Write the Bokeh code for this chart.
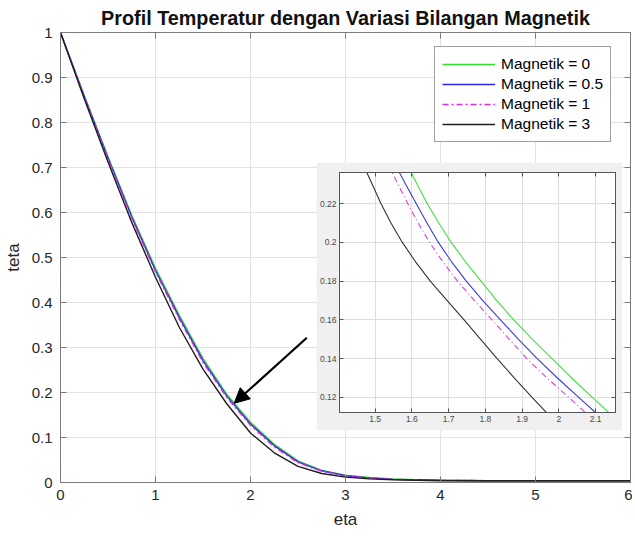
from bokeh.plotting import figure
from bokeh.models import Arrow, NormalHead, FixedTicker, LinearAxis, Range1d
from bokeh.layouts import column
from bokeh.embed import file_html
from bokeh.resources import INLINE

# ---------------- data ----------------
eta = [0, 0.25, 0.5, 0.75, 1, 1.25, 1.5, 1.75, 2, 2.25, 2.5, 2.75, 3, 3.25, 3.5, 3.75, 4, 4.5, 5, 5.5, 6]
theta_m0 = [1, 0.86, 0.724, 0.594, 0.476, 0.372, 0.276, 0.196, 0.134, 0.085, 0.048, 0.027, 0.016, 0.011, 0.008, 0.006, 0.005, 0.004, 0.004, 0.004, 0.004]
theta_m05 = [1, 0.858, 0.721, 0.59, 0.471, 0.367, 0.271, 0.192, 0.13, 0.082, 0.046, 0.026, 0.015, 0.010, 0.007, 0.006, 0.005, 0.004, 0.004, 0.004, 0.004]
theta_m1 = [1, 0.857, 0.719, 0.587, 0.468, 0.363, 0.267, 0.189, 0.127, 0.079, 0.044, 0.025, 0.015, 0.010, 0.007, 0.006, 0.005, 0.004, 0.004, 0.004, 0.004]
theta_m3 = [1, 0.853, 0.712, 0.578, 0.456, 0.345, 0.252, 0.175, 0.11, 0.066, 0.036, 0.020, 0.012, 0.008, 0.006, 0.005, 0.004, 0.004, 0.004, 0.004, 0.004]

# zoomed inset (separate picture): eta positions read at given theta levels
inset_theta = [0.24, 0.23, 0.22, 0.21, 0.20, 0.19, 0.18, 0.17, 0.16, 0.15, 0.14, 0.13, 0.12, 0.11]
inset_eta_m0 = [1.588, 1.614, 1.642, 1.673, 1.707, 1.746, 1.788, 1.831, 1.877, 1.928, 1.981, 2.035, 2.091, 2.148]
inset_eta_m05 = [1.555, 1.583, 1.612, 1.641, 1.672, 1.708, 1.748, 1.793, 1.841, 1.890, 1.941, 1.996, 2.054, 2.112]
inset_eta_m1 = [1.537, 1.562, 1.589, 1.617, 1.648, 1.684, 1.724, 1.770, 1.818, 1.865, 1.913, 1.968, 2.027, 2.085]
inset_eta_m3 = [1.468, 1.492, 1.516, 1.543, 1.574, 1.610, 1.650, 1.696, 1.742, 1.787, 1.832, 1.879, 1.927, 1.977]

legend_labels = ["Magnetik = 0", "Magnetik = 0.5", "Magnetik = 1", "Magnetik = 3"]

x_ticks = [0, 1, 2, 3, 4, 5, 6]
x_tick_labels = ["0", "1", "2", "3", "4", "5", "6"]
y_ticks = [0, 0.1, 0.2, 0.3, 0.4, 0.5, 0.6, 0.7, 0.8, 0.9, 1]
y_tick_labels = ["0", "0.1", "0.2", "0.3", "0.4", "0.5", "0.6", "0.7", "0.8", "0.9", "1"]
inset_x_ticks = [1.5, 1.6, 1.7, 1.8, 1.9, 2.0, 2.1]
inset_x_labels = ["1.5", "1.6", "1.7", "1.8", "1.9", "2", "2.1"]
inset_y_ticks = [0.12, 0.14, 0.16, 0.18, 0.2, 0.22]
inset_y_labels = ["0.12", "0.14", "0.16", "0.18", "0.2", "0.22"]

# ---------------- styles ----------------
FONT = "Liberation Sans"
C_GREEN = "#2fe02f"
C_BLUE = "#2b2be0"
C_MAG = "#e02ce0"
C_BLACK = "#1e1e1e"
AXIS_C = "#7a7a7a"
GRID_C = "#e2e2e2"

p = figure(width=632, height=531, x_range=Range1d(0, 6), y_range=Range1d(0, 1),
           output_backend="svg", toolbar_location=None,
           min_border_left=57, min_border_right=2, min_border_top=24, min_border_bottom=47,
           background_fill_color="white", border_fill_color="white",
           outline_line_color=AXIS_C, frame_align=False)
p.title.text = "Profil Temperatur dengan Variasi Bilangan Magnetik"
p.title.align = "center"
p.title.text_font = FONT
p.title.text_font_size = "19.8px"
p.title.text_font_style = "bold"
p.title.text_color = "#111111"
p.title.standoff = 8

p.xaxis.ticker = FixedTicker(ticks=x_ticks)
p.xaxis.major_label_overrides = dict(zip(x_ticks, x_tick_labels))
p.yaxis.ticker = FixedTicker(ticks=y_ticks)
p.yaxis.major_label_overrides = dict(zip(y_ticks, y_tick_labels))
p.xgrid.ticker = FixedTicker(ticks=x_ticks)
p.ygrid.ticker = FixedTicker(ticks=y_ticks)
p.grid.grid_line_color = GRID_C
p.xaxis.axis_label = "eta"
p.yaxis.axis_label = "teta"
for ax in (p.xaxis[0], p.yaxis[0]):
    ax.axis_line_color = AXIS_C
    ax.major_tick_line_color = AXIS_C
    ax.major_tick_in = 6
    ax.major_tick_out = 0
    ax.minor_tick_line_color = None
    ax.major_label_text_font = FONT
    ax.major_label_text_font_size = "15px"
    ax.major_label_text_color = "#262626"
    ax.axis_label_text_font = FONT
    ax.axis_label_text_font_size = "17px"
    ax.axis_label_text_font_style = "normal"
    ax.axis_label_text_color = "#262626"
p.xaxis.major_label_standoff = 7
p.xaxis.axis_label_standoff = 7
p.yaxis.major_label_standoff = 8
p.yaxis.axis_label_standoff = 6

for loc, tk in (("above", x_ticks), ("right", y_ticks)):
    a = LinearAxis(ticker=FixedTicker(ticks=tk),
                   major_label_overrides={t: "" for t in tk},
                   major_label_text_font_size="1px",
                   major_label_standoff=0, major_tick_in=6, major_tick_out=0,
                   minor_tick_line_color=None, axis_line_color=AXIS_C,
                   major_tick_line_color=AXIS_C)
    p.add_layout(a, loc)

series = [(theta_m0, C_GREEN, "solid"), (theta_m05, C_BLUE, "solid"),
          (theta_m1, C_MAG, "6 3 2 3"), (theta_m3, C_BLACK, "solid")]
for (ys, c, dash), lab in zip(series, legend_labels):
    p.line(eta, ys, line_color=c, line_width=1.4, line_dash=dash, legend_label=lab)

lg = p.legend[0]
lg.location = (374, 340)
lg.margin = 0
lg.padding = 7
lg.spacing = 0
lg.label_height = 20
lg.glyph_height = 20
lg.glyph_width = 53
lg.label_standoff = 6
lg.label_text_font = FONT
lg.label_text_font_size = "15.5px"
lg.label_text_color = "#000000"
lg.border_line_color = "#404040"
lg.border_line_width = 1
lg.background_fill_alpha = 1.0

p.add_layout(Arrow(end=NormalHead(size=15, fill_color="black", line_color="black"),
                   x_start=2.593, y_start=0.3216, x_end=1.828, y_end=0.176,
                   line_width=2.2, line_color="black"))

# ---------------- inset ----------------
ins = figure(width=306, height=268, x_range=Range1d(1.403, 2.154), y_range=Range1d(0.1122, 0.2361),
             output_backend="svg", toolbar_location=None,
             min_border_left=22, min_border_right=7, min_border_top=10, min_border_bottom=18,
             border_fill_color="#f0f0f0", background_fill_color="white",
             outline_line_color="#555555", frame_align=False)
ins.xaxis.ticker = FixedTicker(ticks=inset_x_ticks)
ins.xaxis.major_label_overrides = dict(zip(inset_x_ticks, inset_x_labels))
ins.yaxis.ticker = FixedTicker(ticks=inset_y_ticks)
ins.yaxis.major_label_overrides = dict(zip(inset_y_ticks, inset_y_labels))
ins.xgrid.ticker = FixedTicker(ticks=inset_x_ticks)
ins.ygrid.ticker = FixedTicker(ticks=inset_y_ticks)
ins.grid.grid_line_color = "#dedede"
for ax in (ins.xaxis[0], ins.yaxis[0]):
    ax.axis_line_color = "#555555"
    ax.major_tick_line_color = "#555555"
    ax.major_tick_in = 4
    ax.major_tick_out = 0
    ax.minor_tick_line_color = None
    ax.major_label_text_font = FONT
    ax.major_label_text_font_size = "8.5px"
    ax.major_label_text_color = "#4a4a4a"
    ax.major_label_standoff = 3
for loc, tk in (("above", inset_x_ticks), ("right", inset_y_ticks)):
    a = LinearAxis(ticker=FixedTicker(ticks=tk),
                   major_label_overrides={t: "" for t in tk},
                   major_label_text_font_size="1px",
                   major_label_standoff=0, major_tick_in=4, major_tick_out=0,
                   minor_tick_line_color=None, axis_line_color="#555555",
                   major_tick_line_color="#555555")
    ins.add_layout(a, loc)

inset_series = [(inset_eta_m0, "#3ee03e", "solid"), (inset_eta_m05, "#3a3ad8", "solid"),
                (inset_eta_m1, "#e03ce0", "6 3 1 3"), (inset_eta_m3, "#333333", "solid")]
for xs, c, dash in inset_series:
    ins.line(xs, inset_theta, line_color=c, line_width=1.1, line_dash=dash)

ins.styles = {"position": "absolute", "left": "316px", "top": "162px"}
layout = column(p, ins)

open("out.html", "w").write(file_html(layout, INLINE))
